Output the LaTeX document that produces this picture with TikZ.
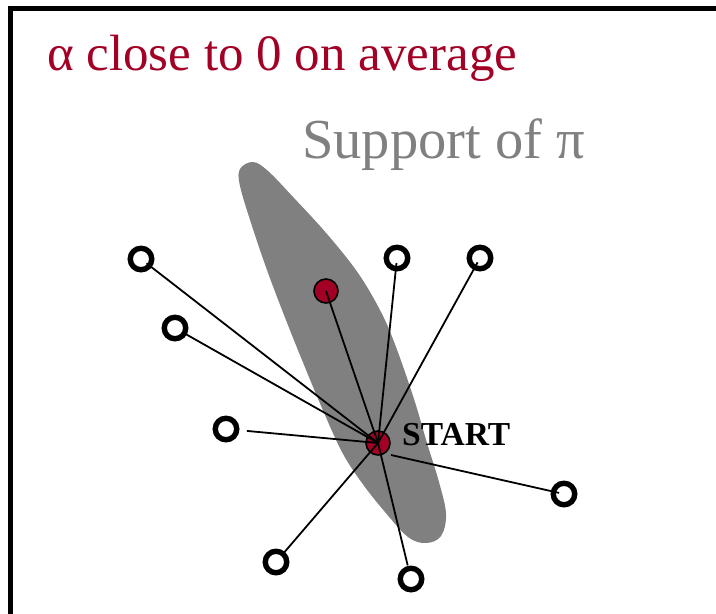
\documentclass[tikz,border=0pt]{standalone}
\usepackage{fontspec}
\setmainfont{Liberation Serif}
\definecolor{darkred}{RGB}{163,0,38}
\definecolor{blobgray}{RGB}{128,128,128}
\begin{document}
\begin{tikzpicture}[x=1pt,y=-1pt,
  ring/.style={circle,draw=black,line width=5.4pt,fill=none,minimum size=21.5pt,inner sep=0pt},
  reddot/.style={circle,draw=black,line width=1.6pt,fill=darkred,minimum size=24pt,inner sep=0pt},
  ray/.style={draw=black,line width=1.8pt}]
\useasboundingbox (0,0) rectangle (716,614);
% frame
\draw[line width=5pt,line cap=rect] (10.5,640) -- (10.5,8.5) -- (740,8.5);
% support blob
\fill[blobgray] plot[smooth cycle,tension=0.6] coordinates {
 (253,162) (268,171) (294,198) (327,234) (358,273) (381,312) (396,347)
 (414,399) (427,443) (439,482) (446,514) (441,536) (426,543) (408,537)
 (385,512) (362,483) (342,452) (322,408) (302,360) (284,315)
 (267,270) (252,226) (240,186) (240,169)};
% texts
\node[anchor=base west,inner sep=0pt,text=darkred,font=\fontsize{51}{58}\selectfont] (t1) at (47,70) {α close to 0 on average};
\node[anchor=base west,inner sep=0pt,text=blobgray,font=\fontsize{56.5}{64}\selectfont] (t2) at (302,158) {Support of π};
\node[anchor=base west,inner sep=0pt,font=\bfseries\fontsize{33.5}{38}\selectfont] (t3) at (402,445) {START};
% circles
\node[ring] (c1) at (141,259) {};
\node[ring] (c2) at (175,328) {};
\node[ring] (c3) at (397,258) {};
\node[ring] (c4) at (480,258) {};
\node[ring] (c5) at (226,429) {};
\node[ring] (c6) at (564,494) {};
\node[ring] (c7) at (276,562) {};
\node[ring] (c8) at (411,579) {};
\node[reddot] (r) at (326,291) {};
\node[reddot] (s) at (378,443) {};
% rays
\coordinate (so) at (391,455);
\draw[ray,shorten >=7pt] (s.center) -- (c1.center);
\draw[ray,shorten >=9pt] (s.center) -- (c2.center);
\draw[ray,shorten >=5pt] (s.center) -- (c3.center);
\draw[ray,shorten >=5pt] (s.center) -- (c4.center);
\draw[ray,shorten >=21pt] (s.center) -- (c5.center);
\draw[ray,shorten >=5pt] (so) -- (c6.center);
\draw[ray,shorten >=13pt] (s.center) -- (c7.center);
\draw[ray,shorten >=14pt] (s.center) -- (c8.center);
\draw[ray] (s.center) -- (r.center);
\end{tikzpicture}
\end{document}
